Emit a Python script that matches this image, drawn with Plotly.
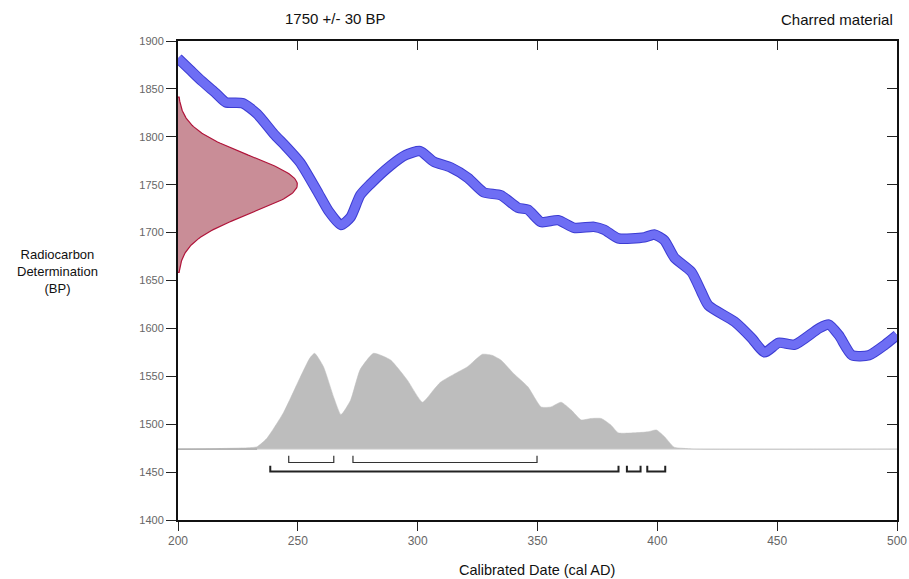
import numpy as np
import plotly.graph_objects as go

# --- Calibration curve (cal AD vs. radiocarbon age BP) ---
curve_years = [200, 205, 210, 216, 220, 227, 233, 240, 245, 251, 258.6, 263, 268,
               272, 276, 280, 288.7, 295, 301, 306.7, 313.8, 321, 327.6, 334.7,
               341.8, 346, 351.5, 358.6, 365.3, 373.6, 377.8, 383.7, 394.6, 398.7,
               402.9, 407.1, 414.2, 418.4, 421.3, 432.2, 439.3, 444.8, 450.6, 457.3,
               467.4, 471.5, 475.7, 481.2, 488.3, 495, 500]
curve_bp = [1882, 1870, 1858, 1845, 1836, 1835, 1824, 1803, 1790, 1773, 1741, 1722, 1708,
            1716, 1739, 1750, 1770, 1781, 1785, 1774, 1768, 1757, 1742, 1739,
            1726, 1724, 1711, 1713, 1705, 1706, 1703, 1694, 1695, 1698,
            1692, 1674, 1659, 1638, 1624, 1607, 1590, 1575, 1585, 1583,
            1600, 1604, 1593, 1572, 1572, 1583, 1593]

# --- Measured radiocarbon age ---
c14_mean = 1750
c14_sigma = 30
c14_peak_width = 49.8          # peak height of the age curve, in calendar years

# --- Calibrated probability distribution ---
prob_baseline = 1474
prob_years = [200, 215, 230, 233, 237, 244, 251, 255, 257, 260.7, 265, 268, 272, 276,
              281.6, 288.7, 295.7, 302, 306.7, 309.6, 315, 320.8, 327, 331, 334.7,
              340, 346, 351.5, 355.6, 359.8, 364, 368.2, 372.4, 376.6, 380.7, 383.7,
              390.4, 396, 399.6, 403, 407, 411, 415.5, 500]
prob_height = [0, 0.5, 1.5, 2.5, 11, 38, 75, 95, 100, 86, 54, 36, 51, 83,
               100, 93, 72, 49, 62, 70, 78, 86, 99, 98, 93,
               79, 65, 44, 44, 49, 41, 30.5, 32, 32, 25, 17,
               17, 18, 20, 13, 2, 0.8, 0, 0]

# --- Calibrated ranges ---
range_68 = [(246.2, 265), (273, 349.8)]
range_95 = [(238.5, 383.8), (387.3, 393), (395.8, 403.3)]
range_68_level = 1460
range_95_level = 1450.5

fig = go.Figure()

# calibrated probability (gray area above the baseline)
fig.add_trace(go.Scatter(x=prob_years, y=[prob_baseline] * len(prob_years),
                         mode="lines", line=dict(color="#cfcfcf", width=1),
                         hoverinfo="skip"))
fig.add_trace(go.Scatter(x=prob_years, y=[prob_baseline + h for h in prob_height],
                         mode="lines", line=dict(color="#bdbdbd", width=0.5, shape="spline",
                                                 smoothing=0.5),
                         fill="tonexty", fillcolor="#bdbdbd", hoverinfo="skip"))
fig.add_trace(go.Scatter(x=[200, 233], y=[prob_baseline, prob_baseline], mode="lines",
                         line=dict(color="#9a9a9a", width=1), hoverinfo="skip"))

# radiocarbon age distribution on the BP axis
bp_grid = np.linspace(c14_mean - 3.05 * c14_sigma, c14_mean + 3.05 * c14_sigma, 161)
age_x = 200 + c14_peak_width * np.exp(-0.5 * ((bp_grid - c14_mean) / c14_sigma) ** 2)
fig.add_trace(go.Scatter(x=np.concatenate([[200], age_x, [200]]),
                         y=np.concatenate([[bp_grid[0]], bp_grid, [bp_grid[-1]]]),
                         mode="lines", fill="toself", fillcolor="#c98d97",
                         line=dict(color="#b0143a", width=1.2), hoverinfo="skip"))

# calibration curve band
fig.add_trace(go.Scatter(x=curve_years, y=curve_bp, mode="lines",
                         line=dict(color="#3c3cd2", width=10.5, shape="spline", smoothing=0.6),
                         hoverinfo="skip"))
fig.add_trace(go.Scatter(x=curve_years, y=curve_bp, mode="lines",
                         line=dict(color="#6e6ef4", width=8.5, shape="spline", smoothing=0.6),
                         hoverinfo="skip"))


def bracket_path(ranges, level, tick):
    xs, ys = [], []
    for a, b in ranges:
        xs += [a, a, b, b, None]
        ys += [level + tick, level, level, level + tick, None]
    return xs, ys


bx, by = bracket_path(range_68, range_68_level, 7)
fig.add_trace(go.Scatter(x=bx, y=by, mode="lines", line=dict(color="#333333", width=1.2),
                         hoverinfo="skip"))
bx, by = bracket_path(range_95, range_95_level, 6)
fig.add_trace(go.Scatter(x=bx, y=by, mode="lines", line=dict(color="#222222", width=2),
                         hoverinfo="skip"))

font_family = "Arial, Liberation Sans, sans-serif"
ytick_font = dict(family=font_family, size=11, color="#666666")
xtick_font = dict(family=font_family, size=12, color="#666666")

fig.update_layout(
    width=909, height=579,
    margin=dict(l=178, r=12, t=41, b=59, autoexpand=False),
    paper_bgcolor="white", plot_bgcolor="white",
    showlegend=False,
    xaxis=dict(range=[200, 500], tickvals=[200, 250, 300, 350, 400, 450, 500],
               ticks="outside", ticklen=9, tickcolor="#222", showgrid=False, zeroline=False,
               showline=True, linecolor="#111", linewidth=2, tickfont=xtick_font,
               automargin=False),
    yaxis=dict(range=[1400, 1900], tickvals=list(range(1400, 1901, 50)),
               ticks="outside", ticklen=10, tickcolor="#222", showgrid=False, zeroline=False,
               showline=True, linecolor="#111", linewidth=2, tickfont=ytick_font,
               automargin=False),
    xaxis2=dict(range=[200, 500], overlaying="x", side="top", anchor="y",
                tickvals=[250, 300, 350, 400, 450], ticks="inside", ticklen=9,
                tickcolor="#222", showticklabels=False, showgrid=False, zeroline=False,
                showline=True, linecolor="#111", linewidth=2, automargin=False),
    yaxis2=dict(range=[1400, 1900], overlaying="y", side="right", anchor="x",
                tickvals=list(range(1450, 1900, 50)), ticks="inside", ticklen=10,
                tickcolor="#222", showticklabels=False, showgrid=False, zeroline=False,
                showline=True, linecolor="#111", linewidth=2, automargin=False),
)
# dummy trace so the mirrored axes render
fig.add_trace(go.Scatter(x=[None], y=[None], xaxis="x2", yaxis="y2", hoverinfo="skip"))

head_font = dict(family=font_family, size=15, color="#111111")
fig.add_annotation(text="1750 +/- 30 BP", xref="paper", yref="paper", x=0.2197, y=1.048,
                   xanchor="center", yanchor="middle", showarrow=False, font=head_font)
fig.add_annotation(text="Charred material", xref="paper", yref="paper", x=0.997, y=1.045,
                   xanchor="right", yanchor="middle", showarrow=False, font=head_font)
fig.add_annotation(text="Radiocarbon<br>Determination<br>(BP)", xref="paper", yref="paper",
                   x=-0.168, y=0.518, xanchor="center", yanchor="middle", showarrow=False,
                   font=dict(family=font_family, size=13, color="#111111"))
fig.add_annotation(text="Calibrated Date (cal AD)", xref="paper", yref="paper", x=0.499,
                   y=-0.104, xanchor="center", yanchor="middle", showarrow=False,
                   font=dict(family=font_family, size=14.5, color="#111111"))

fig.write_html("out.html")
